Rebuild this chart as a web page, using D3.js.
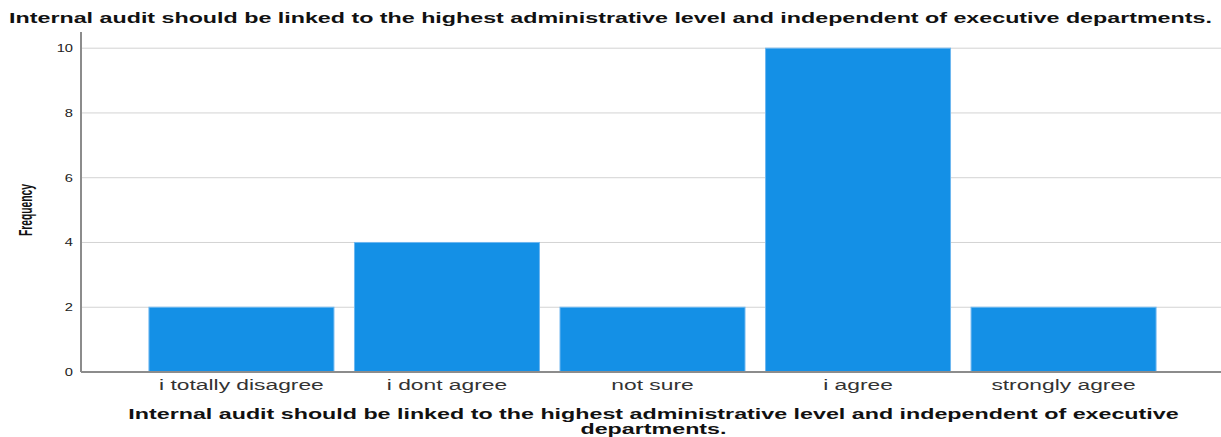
<!DOCTYPE html>
<html>
<head>
<meta charset="utf-8">
<script src="https://cdn.jsdelivr.net/npm/d3@7"></script>
<style>
html,body{margin:0;padding:0;background:#fff;}
svg{display:block;}
</style>
</head>
<body>
<svg id="chart" width="1221" height="437"></svg>
<script>
const categories = ["i totally disagree", "i dont agree", "not sure", "i agree", "strongly agree"];
const frequencies = [2, 4, 2, 10, 2];
const yTicks = [0, 2, 4, 6, 8, 10];
const chartTitle = "Internal audit should be linked to the highest administrative level and independent of executive departments.";
const xTitleLines = ["Internal audit should be linked to the highest administrative level and independent of executive", "departments."];
const yTitle = "Frequency";

const W = 1221, H = 437;
const m = {left: 81, right: 0, top: 32, bottom: 65};
const svg = d3.select("#chart");
const FONT = "Liberation Sans, Arial, sans-serif";

// horizontally stretch text to mimic the reference's wide rendering
function stretch(sel, factor) {
  sel.each(function () {
    const len = this.getComputedTextLength();
    d3.select(this).attr("textLength", len * factor).attr("lengthAdjust", "spacingAndGlyphs");
  });
}

const x = d3.scaleBand().domain(categories)
  .range([m.left + 3, W - m.right]).paddingInner(0.1).paddingOuter(0.316);
const y = d3.scaleLinear().domain([0, 10.5]).range([H - m.bottom, m.top]);

// gridlines
svg.append("g").selectAll("line").data(yTicks.filter(d => d > 0)).join("line")
  .attr("x1", m.left).attr("x2", W - m.right)
  .attr("y1", d => y(d)).attr("y2", d => y(d))
  .attr("stroke", "#d3d3d3").attr("stroke-width", 1);

// bars
svg.append("g").selectAll("rect").data(frequencies).join("rect")
  .attr("x", (d, i) => x(categories[i]))
  .attr("width", x.bandwidth())
  .attr("y", d => y(d))
  .attr("height", d => y(0) - y(d))
  .attr("fill", "#1490e6")
  .attr("stroke", "#6db7f0").attr("stroke-width", 1);

// y axis
const yAxis = d3.axisLeft(y).tickValues(yTicks).tickSize(0).tickPadding(8);
const gy = svg.append("g").attr("transform", `translate(${m.left},0)`).call(yAxis);
gy.select(".domain").attr("stroke", "#8c8c8c").attr("stroke-width", 2).attr("d", `M0,${y(10.5)}V${y(0)}`);
gy.selectAll("text").attr("font-family", FONT).attr("font-size", 10.5).attr("fill", "#222");
stretch(gy.selectAll("text"), 1.4);

// x axis
const xAxis = d3.axisBottom(x).tickSize(0).tickPadding(7);
const gx = svg.append("g").attr("transform", `translate(0,${y(0)})`).call(xAxis);
gx.select(".domain").attr("stroke", "#8c8c8c").attr("stroke-width", 2).attr("d", `M${m.left},0H${W - m.right}`);
gx.selectAll("text").attr("font-family", FONT).attr("font-size", 15.5).attr("fill", "#333");
stretch(gx.selectAll("text"), 1.47);

// chart title
const tt = svg.append("text").attr("x", 610.5).attr("y", 23).attr("text-anchor", "middle")
  .attr("font-family", FONT).attr("font-weight", "bold").attr("font-size", 15)
  .attr("fill", "#111").text(chartTitle);
stretch(tt, 1.55);

// x title
xTitleLines.forEach((t, i) => {
  const s = svg.append("text").attr("text-anchor", "middle")
    .attr("x", 653.5).attr("y", 419 + i * 15)
    .attr("font-family", FONT).attr("font-weight", "bold").attr("font-size", 15)
    .attr("fill", "#111").text(t);
  stretch(s, 1.55);
});

// y title
const yt = svg.append("text")
  .attr("transform", `translate(32,${(y(0) + y(10)) / 2}) rotate(-90)`)
  .attr("text-anchor", "middle")
  .attr("font-family", FONT).attr("font-weight", "bold").attr("font-size", 18)
  .attr("fill", "#111").text(yTitle);
stretch(yt, 0.57);
</script>
</body>
</html>
